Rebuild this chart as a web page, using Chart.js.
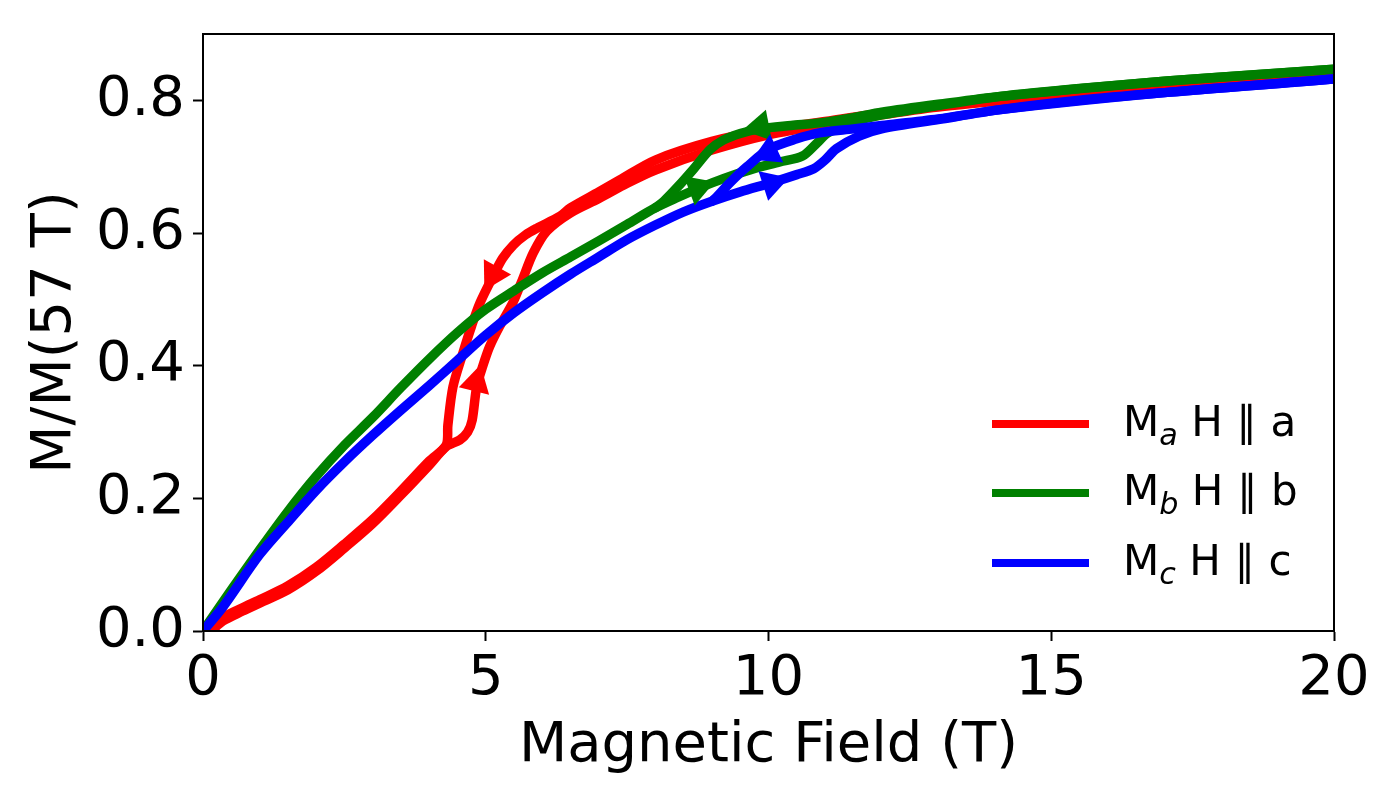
<!DOCTYPE html>
<html>
<head>
<meta charset="utf-8">
<script src="https://cdn.jsdelivr.net/npm/chart.js@4.4.1/dist/chart.umd.min.js"></script>
<style>
  html, body { margin: 0; padding: 0; background: #fff; }
  #wrap { position: relative; width: 1400px; height: 800px; }
  #legend { position: absolute; left: 992px; top: 389px; font-family: "DejaVu Sans", sans-serif; font-size: 42px; }
  .row { display: flex; align-items: center; height: 69.5px; }
  .swatch { width: 97px; height: 8px; margin-right: 34px; }
  .txt { line-height: 50px; white-space: pre; }
  .sub { position: relative; top: 0.3em; font-size: 0.72em; font-style: italic; }
</style>
</head>
<body>
<div id="wrap">
  <canvas id="myChart" width="1400" height="800"></canvas>
  <div id="legend"></div>
</div>
<script>
// Ramo de subida do campo (H crescente) e de descida (H decrescente), em T e M/M(57 T)
const redUpX = [0.15, 0.35, 0.7, 1.0, 1.5, 2.0, 2.5, 3.0, 3.5, 4.0, 4.3, 4.54, 4.68, 4.76, 4.84, 4.95, 5.07, 5.25, 5.48, 5.65, 5.84, 6.08, 6.49, 7.0, 7.5, 8.0, 9.0, 10.0, 11.0, 12.0, 13.0, 15.0, 17.5, 20.0];
const redUpY = [0.0, 0.015, 0.03, 0.042, 0.062, 0.09, 0.125, 0.162, 0.205, 0.25, 0.278, 0.288, 0.3, 0.318, 0.368, 0.40, 0.429, 0.46, 0.495, 0.53, 0.57, 0.603, 0.63, 0.652, 0.675, 0.695, 0.725, 0.748, 0.763, 0.778, 0.79, 0.806, 0.826, 0.843];
const redDownX = [20.0, 17.5, 15.0, 13.0, 12.0, 11.0, 10.0, 9.0, 8.0, 7.37, 7.0, 6.5, 6.31, 5.9, 5.7, 5.49, 5.3, 5.13, 4.9, 4.75, 4.6, 4.42, 4.33, 4.3, 4.0, 3.5, 3.0, 2.5, 2.0, 1.5, 1.0, 0.7, 0.35, 0.15];
const redDownY = [0.845, 0.828, 0.808, 0.792, 0.781, 0.768, 0.756, 0.738, 0.71, 0.68, 0.662, 0.638, 0.625, 0.607, 0.597, 0.582, 0.562, 0.535, 0.495, 0.46, 0.42, 0.368, 0.31, 0.28, 0.256, 0.211, 0.168, 0.131, 0.096, 0.068, 0.047, 0.035, 0.02, 0.003];

const greenUpX = [0, 0.5, 1.0, 1.5, 2.0, 2.5, 3.0, 3.5, 4.0, 4.5, 5.0, 5.5, 6.0, 6.5, 7.0, 7.5, 8.0, 8.4, 8.75, 9.2, 9.7, 10.2, 10.6, 10.85, 11.05, 11.5, 12.0, 13.0, 14.1, 15.5, 17.05, 18.5, 20.0];
const greenUpY = [0, 0.062, 0.122, 0.18, 0.233, 0.28, 0.322, 0.367, 0.41, 0.45, 0.485, 0.513, 0.54, 0.564, 0.588, 0.613, 0.638, 0.654, 0.667, 0.682, 0.696, 0.707, 0.716, 0.735, 0.751, 0.767, 0.778, 0.792, 0.806, 0.818, 0.829, 0.838, 0.847];
const greenDownX = [20.0, 17.05, 14.1, 13.0, 12.0, 11.5, 10.9, 10.4, 9.85, 9.5, 9.2, 8.97, 8.67, 8.4, 8.15, 8.0];
const greenDownY = [0.847, 0.829, 0.806, 0.794, 0.782, 0.774, 0.766, 0.762, 0.757, 0.75, 0.74, 0.726, 0.696, 0.67, 0.648, 0.638];

const blueUpX = [0, 0.35, 1.0, 1.54, 2.0, 2.5, 3.0, 3.5, 4.0, 4.5, 5.0, 5.5, 6.0, 6.5, 7.0, 7.5, 8.0, 8.5, 9.0, 9.5, 10.06, 10.5, 10.8, 11.0, 11.2, 11.6, 12.0, 13.0, 14.1, 15.5, 17.05, 18.5, 20.0];
const blueUpY = [0, 0.036, 0.115, 0.168, 0.212, 0.255, 0.295, 0.333, 0.37, 0.408, 0.446, 0.48, 0.51, 0.538, 0.564, 0.59, 0.612, 0.632, 0.648, 0.662, 0.676, 0.688, 0.697, 0.71, 0.727, 0.746, 0.757, 0.771, 0.786, 0.8, 0.812, 0.822, 0.832];
const blueDownX = [20, 17.05, 14.1, 13.0, 12.0, 11.5, 10.9, 10.5, 10.0, 9.62, 9.32, 9.09, 9.0];
const blueDownY = [0.832, 0.812, 0.786, 0.772, 0.762, 0.757, 0.751, 0.742, 0.726, 0.70, 0.676, 0.655, 0.648];

// Setas indicando o sentido da varredura (ângulo em graus, 0 = para cima)
const arrowX = [4.83, 5.13, 8.75, 9.85, 10.06, 10.0];
const arrowY = [0.375, 0.537, 0.668, 0.760, 0.675, 0.722];
const arrowAngle = [14, 209, 70, 259, 72, 245];
const arrowSeries = [0, 0, 1, 1, 2, 2];

const seriesColors = ['#ff0000', '#008000', '#0000ff'];
const seriesSub = ['a', 'b', 'c'];
const seriesAxis = ['a', 'b', 'c'];

const xTicks = [0, 5, 10, 15, 20];
const yTicks = [0, 0.2, 0.4, 0.6, 0.8];

const pts = (xs, ys) => xs.map((x, i) => ({ x: x, y: ys[i] }));

function curve(xs, ys, color, order) {
  return {
    data: pts(xs, ys),
    borderColor: color,
    borderWidth: 9.5,
    pointRadius: 0,
    tension: 0.3,
    fill: false,
    order: order,
    borderCapStyle: 'round',
    borderJoinStyle: 'round'
  };
}

const datasets = [
  curve(redUpX, redUpY, seriesColors[0], 6),
  curve(redDownX, redDownY, seriesColors[0], 5),
  curve(greenUpX, greenUpY, seriesColors[1], 4),
  curve(greenDownX, greenDownY, seriesColors[1], 3),
  curve(blueUpX, blueUpY, seriesColors[2], 2),
  curve(blueDownX, blueDownY, seriesColors[2], 1),
  {
    data: pts(arrowX, arrowY),
    showLine: false,
    pointStyle: 'triangle',
    pointRadius: 18,
    pointRotation: arrowAngle,
    pointBackgroundColor: arrowSeries.map(s => seriesColors[s]),
    pointBorderWidth: 0,
    pointBorderColor: 'rgba(0,0,0,0)',
    order: 0
  }
];

// Moldura completa (como o eixo do matplotlib)
const frame = {
  id: 'frame',
  afterDraw(chart) {
    const a = chart.chartArea, c = chart.ctx;
    c.save();
    c.strokeStyle = '#000';
    c.lineWidth = 2;
    c.strokeRect(a.left, a.top, a.right - a.left, a.bottom - a.top);
    c.restore();
  }
};

const fontFam = '"DejaVu Sans", sans-serif';

const ctx = document.getElementById('myChart').getContext('2d');
new Chart(ctx, {
  type: 'line',
  data: { datasets: datasets },
  options: {
    responsive: false,
    animation: false,
    events: [],
    layout: { padding: { top: 34, right: 66, left: 0, bottom: 0 } },
    plugins: { legend: { display: false }, tooltip: { enabled: false } },
    scales: {
      x: {
        type: 'linear',
        min: 0,
        max: 20,
        afterBuildTicks: s => { s.ticks = xTicks.map(v => ({ value: v })); },
        afterFit: s => { s.height = 169; s.paddingLeft = 0; s.paddingRight = 0; },
        ticks: { color: '#000', font: { family: fontFam, size: 56 }, padding: 5, maxRotation: 0, callback: v => String(v) },
        grid: { drawOnChartArea: false, drawTicks: true, tickLength: 10, tickWidth: 2, tickColor: '#000' },
        border: { display: true, color: '#000', width: 2 },
        title: { display: true, text: 'Magnetic Field (T)', color: '#000', font: { family: fontFam, size: 56 }, padding: { top: 0, bottom: 20 } }
      },
      y: {
        type: 'linear',
        min: 0,
        max: 0.9,
        afterBuildTicks: s => { s.ticks = yTicks.map(v => ({ value: v })); },
        afterFit: s => { s.width = 203; s.paddingTop = 0; s.paddingBottom = 0; },
        ticks: { color: '#000', font: { family: fontFam, size: 56 }, padding: 8, callback: v => v.toFixed(1) },
        grid: { drawOnChartArea: false, drawTicks: true, tickLength: 10, tickWidth: 2, tickColor: '#000' },
        border: { display: true, color: '#000', width: 2 },
        title: { display: true, text: 'M/M(57 T)', color: '#000', font: { family: fontFam, size: 56 }, padding: { top: 22, bottom: 0 } }
      }
    }
  },
  plugins: [frame]
});

// Legenda dentro da área do gráfico
const legend = document.getElementById('legend');
seriesColors.forEach((col, i) => {
  const row = document.createElement('div');
  row.className = 'row';
  row.innerHTML = '<div class="swatch" style="background:' + col + '"></div>' +
    '<div class="txt">M<span class="sub">' + seriesSub[i] + '</span> H \u2225 ' + seriesAxis[i] + '</div>';
  legend.appendChild(row);
});
</script>
</body>
</html>
